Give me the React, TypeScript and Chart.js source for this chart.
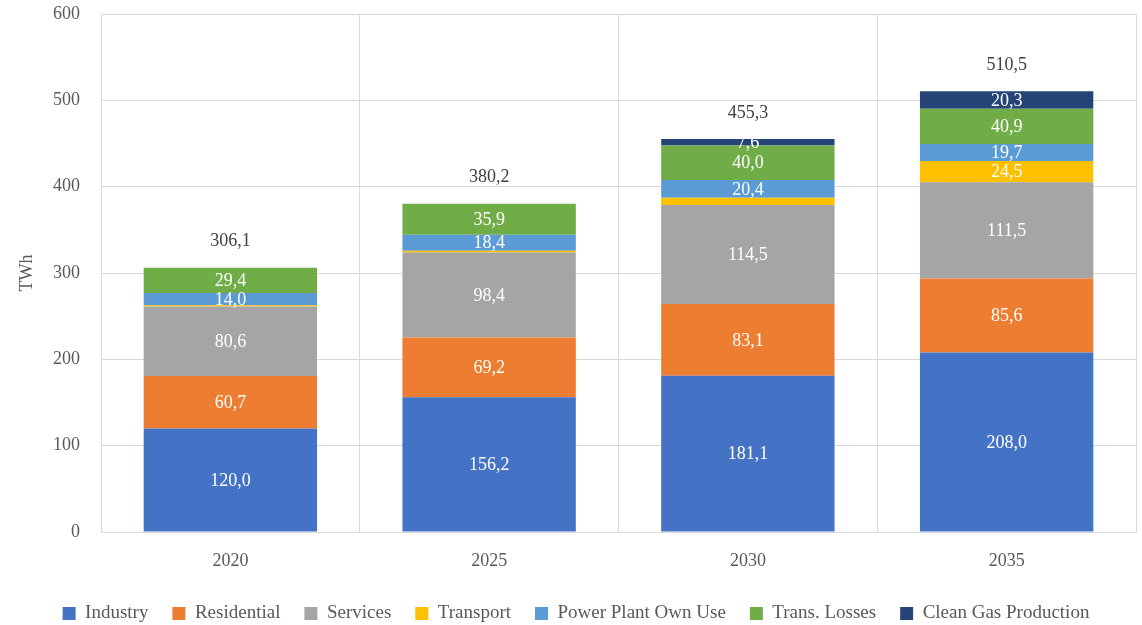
import React, { useEffect, useRef } from "react";
import { Chart, registerables } from "chart.js";

Chart.register(...registerables);

const categories = ["2020", "2025", "2030", "2035"];
const industry = [120.0, 156.2, 181.1, 208.0];
const residential = [60.7, 69.2, 83.1, 85.6];
const services = [80.6, 98.4, 114.5, 111.5];
const transport = [1.4, 2.1, 8.6, 24.5];
const powerPlant = [14.0, 18.4, 20.4, 19.7];
const transLosses = [29.4, 35.9, 40.0, 40.9];
const cleanGas = [0, 0, 7.6, 20.3];
const totals = [306.1, 380.2, 455.3, 510.5];
const yTicks = [0, 100, 200, 300, 400, 500, 600];

const FONT = "'Liberation Serif', 'DejaVu Serif', serif";
const TEXT = "#595959";

const fmt = (v: number) => v.toFixed(1).replace(".", ",");

const labelPlugin = {
  id: "segLabels",
  afterDatasetsDraw(chart: any) {
    const ctx = chart.ctx;
    ctx.save();
    ctx.font = `18px ${FONT}`;
    ctx.textAlign = "center";
    ctx.textBaseline = "middle";
    chart.data.datasets.forEach((ds: any, i: number) => {
      const meta = chart.getDatasetMeta(i);
      meta.data.forEach((el: any, j: number) => {
        const v = ds.data[j];
        if (!v) return;
        if (ds.label === "Transport" && v < 10) return;
        const p = el.getProps(["x", "y", "base"], true);
        ctx.fillStyle = "#ffffff";
        ctx.fillText(fmt(v), p.x, (p.y + p.base) / 2 + 1);
      });
    });
    const meta0 = chart.getDatasetMeta(0);
    ctx.fillStyle = "#404040";
    meta0.data.forEach((el: any, j: number) => {
      const y = chart.scales.y.getPixelForValue(totals[j]);
      ctx.fillText(fmt(totals[j]), el.x, y - 26);
    });
    ctx.restore();
  },
};

export default function App() {
  const ref = useRef<HTMLCanvasElement>(null);
  useEffect(() => {
    document.body.style.margin = "0";
    const mk = (label: string, data: number[], color: string) => ({
      label,
      data,
      backgroundColor: color,
      borderWidth: 0,
      barPercentage: 0.67,
      categoryPercentage: 1,
    });
    const chart = new Chart(ref.current!, {
      type: "bar",
      data: {
        labels: categories,
        datasets: [
          mk("Industry", industry, "#4472C4"),
          mk("Residential", residential, "#ED7D31"),
          mk("Services", services, "#A5A5A5"),
          mk("Transport", transport, "#FFC000"),
          mk("Power Plant Own Use", powerPlant, "#5B9BD5"),
          mk("Trans. Losses", transLosses, "#70AD47"),
          mk("Clean Gas Production", cleanGas, "#264478"),
        ],
      },
      options: {
        animation: false,
        responsive: false,
        maintainAspectRatio: false,
        layout: { padding: { top: 14, right: 6, left: 16, bottom: -8 } },
        plugins: {
          legend: {
            position: "bottom",
            labels: {
              font: { family: FONT, size: 19 },
              color: TEXT,
              boxWidth: 13,
              boxHeight: 13,
              padding: 24,
            },
          },
          tooltip: { enabled: false },
        },
        scales: {
          x: {
            stacked: true,
            grid: { color: "#d9d9d9", offset: true, drawTicks: false },
            border: { color: "#d9d9d9" },
            ticks: { font: { family: FONT, size: 18 }, color: TEXT, padding: 18 },
            afterFit: (s: any) => {
              s.height = 48;
            },
          },
          y: {
            stacked: true,
            min: 0,
            max: 600,
            afterBuildTicks: (s: any) => {
              s.ticks = yTicks.map((v) => ({ value: v }));
            },
            afterFit: (s: any) => {
              s.width = 85;
              s.paddingTop = 0;
              s.paddingBottom = 0;
            },
            grid: { color: "#d9d9d9", drawTicks: false },
            border: { display: false },
            ticks: { font: { family: FONT, size: 18 }, color: TEXT, padding: 21 },
            title: {
              display: true,
              text: "TWh",
              font: { family: FONT, size: 18 },
              color: TEXT,
              padding: 0,
            },
          },
        },
      },
      plugins: [labelPlugin],
    });
    return () => chart.destroy();
  }, []);
  return (
    <div style={{ width: 1142, height: 625 }}>
      <canvas ref={ref} width={1142} height={625} style={{ display: "block" }} />
    </div>
  );
}
